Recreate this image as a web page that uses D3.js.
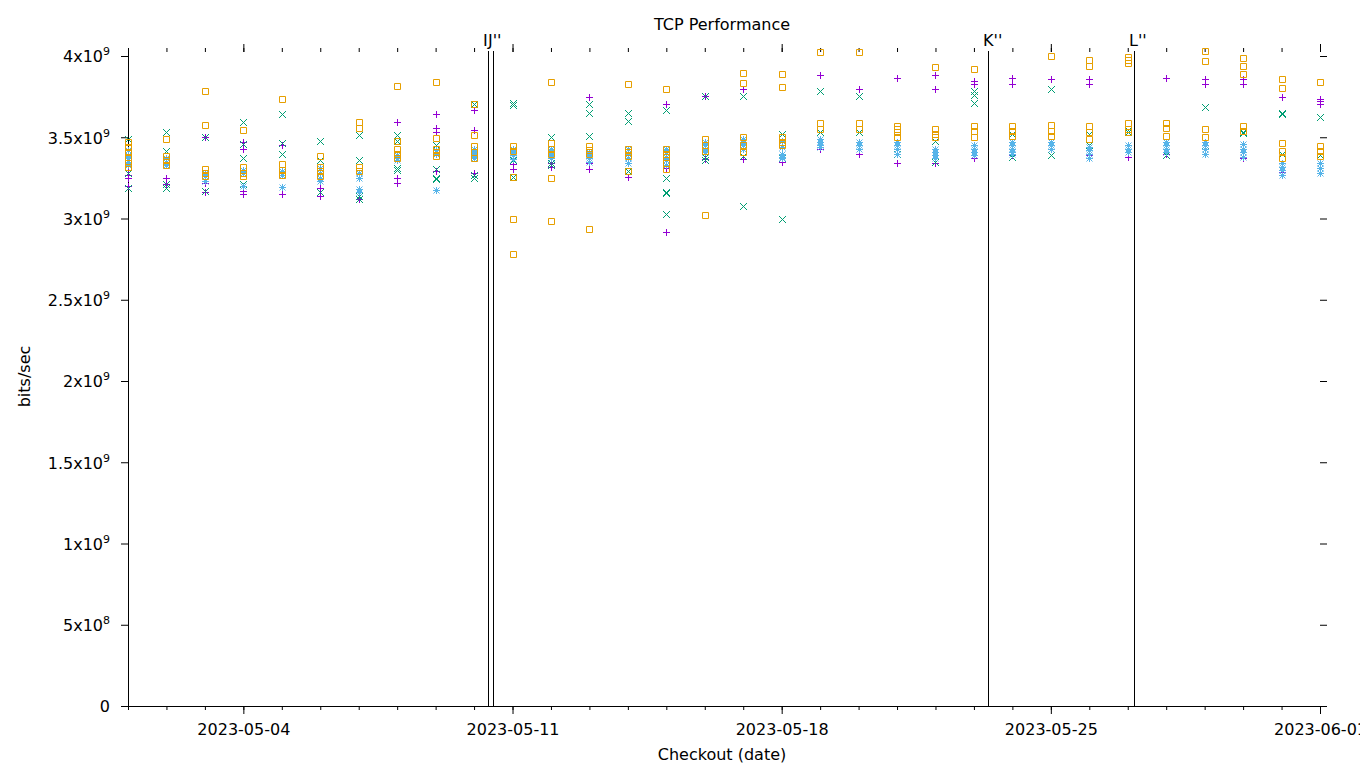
<!DOCTYPE html>
<html><head><meta charset="utf-8">
<script src="https://cdn.jsdelivr.net/npm/d3@7"></script>
<style>
body{margin:0;background:#fff}
svg{display:block}
text{font-family:"DejaVu Sans",sans-serif;fill:#000}
</style>
</head><body>
<svg id="chart" width="1360" height="768"></svg>
<script>
// ---- data (bits/sec, in units of 1e9) ----
const UNIT = 1e9;
const dates = ["2023-05-01","2023-05-02","2023-05-03","2023-05-04","2023-05-05","2023-05-06","2023-05-07","2023-05-08",
  "2023-05-09","2023-05-10","2023-05-11","2023-05-12","2023-05-13","2023-05-14","2023-05-15","2023-05-16",
  "2023-05-17","2023-05-18","2023-05-19","2023-05-20","2023-05-21","2023-05-22","2023-05-23","2023-05-24",
  "2023-05-25","2023-05-26","2023-05-27","2023-05-28","2023-05-29","2023-05-30","2023-05-31","2023-06-01"];

const seriesPlus = [
  [3.30,3.27,3.25,3.20],[3.25,3.21],[3.50,3.22,3.165],[3.47,3.43,3.17,3.15],[3.45,3.15],[3.19,3.14],[3.25,3.12],
  [3.595,3.25,3.22],[3.643,3.56,3.535,3.29],[3.67,3.545,3.28],[3.335,3.305],[3.34,3.32],[3.747,3.34,3.305],
  [3.40,3.255],[3.705,3.31,2.915],[3.755,3.365],[3.797,3.365],[3.37,3.35],[3.885,3.43],[3.80,3.40],[3.865,3.34],
  [3.883,3.797,3.34],[3.845,3.83,3.375],[3.865,3.83,3.39],[3.86,3.43],[3.86,3.83,3.39],[3.38],[3.865,3.40],
  [3.86,3.83,3.40],[3.86,3.83,3.37],[3.747,3.285],[3.735,3.72,3.705,3.28]];

const seriesCross = [
  [3.49,3.28,3.19],[3.53,3.415,3.21,3.19],[3.50,3.17],[3.595,3.46,3.37,3.21],[3.64,3.465,3.40],[3.48,3.475,3.36,3.16],
  [3.515,3.36,3.14,3.12],[3.515,3.477,3.31,3.30],[3.45,3.305,3.25,3.24],[3.705,3.27,3.25],[3.71,3.70,3.36,3.255],
  [3.50,3.34,3.33],[3.705,3.65,3.51],[3.65,3.60,3.29],[3.67,3.25,3.165,3.155,3.03],[3.755,3.38,3.36],[3.755,3.385,3.08],
  [3.52,3.37,3.00],[3.785,3.535],[3.755,3.535],[3.40],[3.477,3.35],[3.785,3.76,3.71,3.41],[3.52,3.38],[3.80,3.39],
  [3.52,3.45],[3.545,3.53],[3.39],[3.686,3.45],[3.535,3.525],[3.65,3.645,3.40],[3.625,3.39]];

const seriesStar = [
  [3.42,3.39,3.37,3.35,3.33],[3.37,3.35,3.33],[3.28,3.26,3.23],[3.30,3.28,3.20],[3.29,3.27,3.195],[3.31,3.28,3.25,3.23],
  [3.28,3.25,3.18,3.16],[3.39,3.37,3.36],[3.42,3.40,3.175],[3.43,3.41,3.39,3.37],[3.43,3.41,3.39,3.365],
  [3.43,3.41,3.39,3.37],[3.41,3.39,3.37,3.35],[3.43,3.40,3.37,3.34],[3.43,3.41,3.38,3.36,3.33],[3.47,3.45,3.43,3.41],
  [3.49,3.47,3.45,3.43],[3.48,3.44,3.40,3.38,3.37],[3.49,3.47,3.45,3.44],[3.47,3.45,3.43],[3.47,3.45,3.43,3.40],
  [3.43,3.41,3.39,3.37],[3.45,3.43,3.41,3.39],[3.47,3.45,3.43,3.41,3.40],[3.47,3.45,3.43],[3.44,3.42,3.40,3.37],
  [3.45,3.43,3.41],[3.47,3.45,3.43,3.41],[3.47,3.45,3.43,3.40],[3.46,3.43,3.41,3.38],[3.34,3.32,3.30,3.27],[3.34,3.31,3.28]];

const seriesSquare = [
  [3.47,3.44,3.41,3.38,3.34,3.32],[3.49,3.385,3.36,3.33],[3.785,3.575,3.305,3.28,3.26],[3.545,3.32,3.28,3.26],
  [3.735,3.335,3.30,3.27],[3.385,3.32,3.29,3.26],[3.595,3.557,3.32,3.29],[3.815,3.477,3.43,3.40,3.37],
  [3.84,3.497,3.43,3.41,3.385],[3.705,3.515,3.445,3.41,3.37],[3.445,3.415,3.255,3.00,2.78],
  [3.84,3.465,3.43,3.40,3.25,2.985],[3.445,3.42,3.40,2.935],[3.83,3.43,3.41,3.385,3.29],
  [3.80,3.43,3.40,3.38,3.34,3.305],[3.49,3.45,3.415,3.02],[3.895,3.835,3.50,3.45,3.41],[3.89,3.81,3.50,3.47,3.45],
  [4.025,3.59,3.55],[4.025,3.59,3.55],[3.57,3.55,3.53,3.50],[3.93,3.55,3.52,3.50],[3.92,3.57,3.54,3.50],
  [3.57,3.54,3.51],[4.00,3.575,3.54,3.51],[3.975,3.94,3.57,3.53,3.49],[3.995,3.975,3.96,3.59,3.55,3.53],
  [3.59,3.56,3.51],[4.03,3.97,3.55,3.50],[3.99,3.94,3.89,3.57,3.54],[3.86,3.805,3.465,3.415,3.375],[3.84,3.445,3.415,3.385]];

const seriesColors = ["#9400d3","#009e73","#56b4e9","#e69f00"];
const seriesSymbols = ["plus","cross","star","square"];

const eventTimes = ["2023-05-10T08:45:00Z","2023-05-10T11:50:00Z","2023-05-23T08:50:00Z","2023-05-27T03:50:00Z"];
const eventLabels = ["I","J''","K''","L''"];

const yTickValues = [0,0.5e9,1e9,1.5e9,2e9,2.5e9,3e9,3.5e9,4e9];
const yTickMantissa = ["0","5","1","1.5","2","2.5","3","3.5","4"];
const yTickExponent = ["","8","9","9","9","9","9","9","9"];
const xMajorDates = ["2023-05-04","2023-05-11","2023-05-18","2023-05-25","2023-06-01"];

// ---- chart ----
const svg = d3.select("#chart");
const parse = d3.utcParse("%Y-%m-%d");
const x = d3.scaleUtc().domain([parse("2023-05-01"), parse("2023-06-01")]).range([128, 1320]);
const y = d3.scaleLinear().domain([0, 4e9]).range([706, 56]);
const TOP = 52, BOTTOM = 706;

const dayTicks = d3.utcDay.range(parse("2023-05-01"), d3.utcDay.offset(parse("2023-06-01"), 1));
const majorTicks = xMajorDates.map(parse);

function styleAxis(g){ g.select(".domain").remove(); g.selectAll("line").attr("stroke","#000"); }

// bottom minor / major
svg.append("g").attr("transform",`translate(0,${BOTTOM})`)
  .call(d3.axisBottom(x).tickValues(dayTicks).tickSize(4).tickFormat(""))
  .call(styleAxis);
svg.append("g").attr("transform",`translate(0,${BOTTOM})`)
  .call(d3.axisBottom(x).tickValues(majorTicks).tickSize(8).tickPadding(10).tickFormat(d3.utcFormat("%Y-%m-%d")))
  .call(styleAxis)
  .call(g=>g.selectAll("text").attr("font-size","16px").attr("font-family","DejaVu Sans, sans-serif").attr("fill","#000"));
// top mirror
svg.append("g").attr("transform",`translate(0,${TOP})`)
  .call(d3.axisTop(x).tickValues(dayTicks).tickSize(4).tickFormat(""))
  .call(styleAxis);
svg.append("g").attr("transform",`translate(0,${TOP})`)
  .call(d3.axisTop(x).tickValues(majorTicks).tickSize(8).tickFormat(""))
  .call(styleAxis);
// left / right
const left = svg.append("g").attr("transform","translate(128,0)")
  .call(d3.axisLeft(y).tickValues(yTickValues).tickSize(7).tickFormat(""))
  .call(styleAxis);
left.selectAll(".tick").each(function(d,i){
  const t = d3.select(this).append("text").attr("x",-18).attr("dy","0.36em")
    .attr("text-anchor","end").attr("font-size","16px");
  t.append("tspan").text(yTickMantissa[i] + (yTickExponent[i] ? "x10" : ""));
  if (yTickExponent[i]) t.append("tspan").attr("dy","-7").attr("font-size","11px").text(yTickExponent[i]);
});
svg.append("g").attr("transform","translate(1320,0)")
  .call(d3.axisRight(y).tickValues(yTickValues).tickSize(7).tickFormat(""))
  .call(styleAxis);

// axis lines (border left + bottom)
svg.append("line").attr("x1",128.5).attr("x2",128.5).attr("y1",TOP).attr("y2",BOTTOM+1).attr("stroke","#000");
svg.append("line").attr("x1",128).attr("x2",1321).attr("y1",BOTTOM+0.5).attr("y2",BOTTOM+0.5).attr("stroke","#000");

// event lines
const ev = svg.append("g");
eventTimes.forEach((t,i)=>{
  const xp = Math.round(x(new Date(t))) + 0.5;
  ev.append("line").attr("x1",xp).attr("x2",xp).attr("y1",51).attr("y2",BOTTOM).attr("stroke","#000");
  ev.append("text").attr("x",xp-5.5).attr("y",45.5).attr("font-size","16px").text(eventLabels[i]);
});

// markers
function symbolPath(type){
  const r = 3.5;
  if (type==="plus") return `M${-r},0H${r}M0,${-r}V${r}`;
  if (type==="cross") return `M${-r},${-r}L${r},${r}M${-r},${r}L${r},${-r}`;
  if (type==="star") return `M${-r},0H${r}M0,${-r}V${r}M${-r+0.5},${-r+0.5}L${r-0.5},${r-0.5}M${-r+0.5},${r-0.5}L${r-0.5},${-r+0.5}`;
  return `M-3,-3H3V3H-3Z`;
}
const allSeries = [seriesPlus, seriesCross, seriesStar, seriesSquare];
allSeries.forEach((ser,si)=>{
  const pts = [];
  ser.forEach((vals,di)=> vals.forEach(v => pts.push({date: parse(dates[di]), value: v*UNIT})));
  svg.append("g").selectAll("path").data(pts).join("path")
    .attr("transform", d => `translate(${Math.round(x(d.date))+0.5},${Math.round(y(d.value))+0.5})`)
    .attr("d", symbolPath(seriesSymbols[si]))
    .attr("fill","none").attr("stroke",seriesColors[si]).attr("stroke-width",1);
});

// titles
svg.append("text").attr("x",722).attr("y",30).attr("text-anchor","middle").attr("font-size","16px").text("TCP Performance");
svg.append("text").attr("x",722).attr("y",760).attr("text-anchor","middle").attr("font-size","16px").text("Checkout (date)");
svg.append("text").attr("transform","translate(29.5,376.5) rotate(-90)").attr("text-anchor","middle").attr("font-size","16px").text("bits/sec");
</script>
</body></html>
